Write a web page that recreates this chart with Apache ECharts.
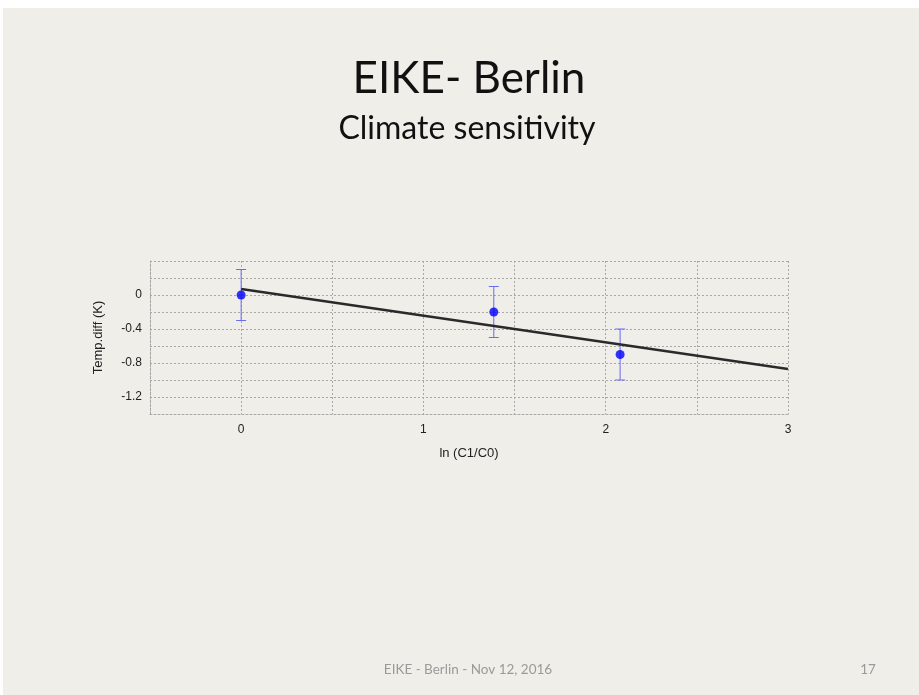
<!DOCTYPE html>
<html>
<head>
<meta charset="utf-8">
<script src="https://cdn.jsdelivr.net/npm/echarts@6/dist/echarts.min.js"></script>
<style>
html,body{margin:0;padding:0;background:#ffffff;}
#main{width:919px;height:695px;}
</style>
</head>
<body>
<div id="main"></div>
<script>
// Data
var pointX = [0, 1.386, 2.079];
var pointY = [0, -0.2, -0.7];
var errLow = [-0.3, -0.5, -1.0];
var errHigh = [0.3, 0.1, -0.4];
var fitX = [0, 3];
var fitY = [0.07, -0.87];
var yLabelsShown = [0, -0.4, -0.8, -1.2];
var xLabelsShown = [0, 1, 2, 3];

var points = pointX.map(function (x, i) { return [x, pointY[i]]; });
var errors = pointX.map(function (x, i) { return [x, errLow[i], errHigh[i]]; });
var fit = fitX.map(function (x, i) { return [x, fitY[i]]; });

function near(v, list) {
  for (var i = 0; i < list.length; i++) if (Math.abs(v - list[i]) < 1e-6) return true;
  return false;
}

var chart = echarts.init(document.getElementById('main'));
var dotted = { color: '#a8a8a8', type: [2, 2], width: 1 };
chart.setOption({
  backgroundColor: '#efeee8',
  animation: false,
  graphic: [
    { type: 'rect', x: 0, y: 0, shape: { width: 919, height: 8 }, style: { fill: '#ffffff' } },
    { type: 'rect', x: 0, y: 0, shape: { width: 3, height: 695 }, style: { fill: '#ffffff' } },
    { type: 'text', x: 469, y: 57, style: { text: 'EIKE- Berlin', font: '44px Lato', fill: '#111111', align: 'center', verticalAlign: 'top' } },
    { type: 'text', x: 467, y: 113, style: { text: 'Climate sensitivity', font: '32px Lato', fill: '#111111', align: 'center', verticalAlign: 'top' } },
    { type: 'text', x: 468, y: 663, style: { text: 'EIKE - Berlin - Nov 12, 2016', font: '13.5px Lato', fill: '#9a9a9a', align: 'center', verticalAlign: 'top' } },
    { type: 'text', x: 868, y: 663, style: { text: '17', font: '13.5px Lato', fill: '#9a9a9a', align: 'center', verticalAlign: 'top' } }
  ],
  grid: { left: 150, right: 131, top: 261, bottom: 281 },
  xAxis: {
    type: 'value', min: -0.5, max: 3, interval: 0.5,
    name: 'ln (C1/C0)', nameLocation: 'middle', nameGap: 33,
    nameTextStyle: { fontFamily: 'Liberation Sans', fontSize: 13, color: '#222' },
    axisLine: { show: true, onZero: false, lineStyle: dotted },
    axisTick: { show: false },
    splitLine: { show: true, lineStyle: dotted },
    axisLabel: {
      fontFamily: 'Liberation Sans', fontSize: 12, color: '#222', margin: 10,
      formatter: function (v) { return near(v, xLabelsShown) ? String(v) : ''; }
    }
  },
  yAxis: {
    type: 'value', min: -1.4, max: 0.4, interval: 0.2,
    name: 'Temp.diff (K)', nameLocation: 'middle', nameGap: 45, nameRotate: 90,
    nameTextStyle: { fontFamily: 'Liberation Sans', fontSize: 13, color: '#222' },
    axisLine: { show: true, onZero: false, lineStyle: dotted },
    axisTick: { show: false },
    splitLine: { show: true, lineStyle: dotted },
    axisLabel: {
      fontFamily: 'Liberation Sans', fontSize: 12, color: '#222', margin: 8,
      formatter: function (v) { return near(v, yLabelsShown) ? (Math.abs(v) < 1e-9 ? '0' : String(Math.round(v * 10) / 10)) : ''; }
    }
  },
  series: [
    {
      type: 'custom',
      data: errors,
      z: 2,
      renderItem: function (params, api) {
        var x = api.value(0);
        var lo = api.coord([x, api.value(1)]);
        var hi = api.coord([x, api.value(2)]);
        var w = 5;
        var st = { stroke: '#6b6bf0', lineWidth: 1 };
        return {
          type: 'group',
          children: [
            { type: 'line', shape: { x1: lo[0], y1: lo[1], x2: hi[0], y2: hi[1] }, style: st },
            { type: 'line', shape: { x1: lo[0] - w, y1: lo[1], x2: lo[0] + w, y2: lo[1] }, style: st },
            { type: 'line', shape: { x1: hi[0] - w, y1: hi[1], x2: hi[0] + w, y2: hi[1] }, style: st }
          ]
        };
      }
    },
    {
      type: 'line', data: fit, showSymbol: false, z: 3,
      lineStyle: { color: '#2a2a2a', width: 2.5 }
    },
    {
      type: 'scatter', data: points, symbolSize: 9, z: 4,
      itemStyle: { color: '#0000ff' }
    }
  ]
});
</script>
</body>
</html>
